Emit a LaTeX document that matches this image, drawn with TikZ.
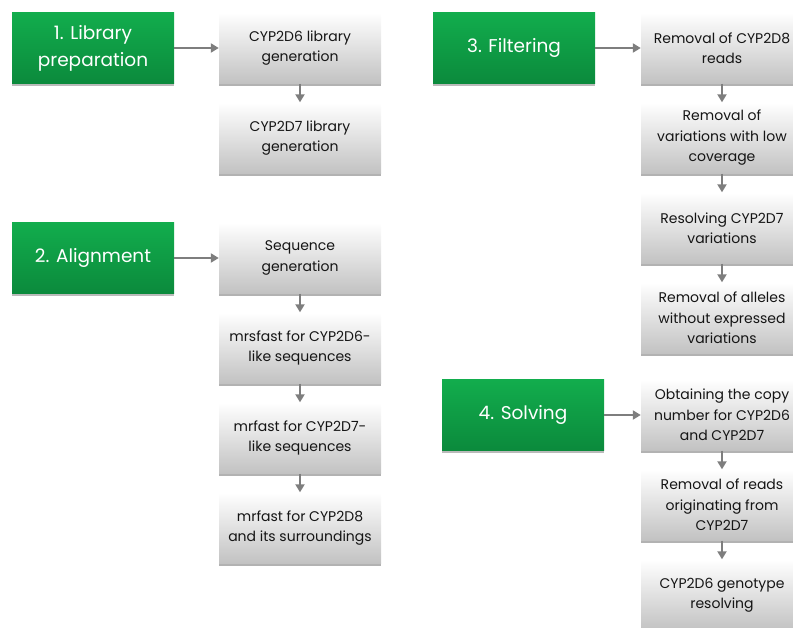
\documentclass[tikz,border=0pt]{standalone}
\usepackage{fontspec}
\setmainfont{Poppins}
\usetikzlibrary{arrows.meta,positioning,shadows}
\definecolor{phasetop}{HTML}{12AD4D}
\definecolor{phasebottom}{HTML}{0B8A3C}
\definecolor{tasktext}{HTML}{151515}
\definecolor{linkgray}{HTML}{7E7E7E}

\begin{document}
\begin{tikzpicture}[x=1pt,y=-1pt,node distance=90pt,on grid,
    phase/.style={minimum width=162pt,minimum height=71pt,inner sep=2pt,
      top color=phasetop,bottom color=phasebottom,text=white,align=center,
      font=\fontsize{18.5}{27}\selectfont,
      drop shadow={shadow xshift=0pt,shadow yshift=-2pt,opacity=.45,fill=black!60}},
    task/.style={minimum width=162pt,minimum height=71pt,inner sep=2pt,
      top color=white,bottom color=black!24,text=tasktext,align=center,
      font=\fontsize{14}{20.5}\selectfont,
      drop shadow={shadow xshift=0pt,shadow yshift=-2pt,opacity=.5,fill=black!60}},
    link/.style={-{Triangle[length=8pt,width=9pt]},line width=2pt,draw=linkgray}]
  \useasboundingbox (0,0) rectangle (793,627);
  \clip (0,0) rectangle (793,627);

  % phases
  \node[phase] (libprep) at (93,48) {1. Library\\preparation};
  \node[phase] (align) at (93,258) {2. Alignment};
  \node[phase] (filter) at (514,48) {3. Filtering};
  \node[phase] (solve) at (523,415) {4. Solving};

  % library preparation
  \node[task] (d6lib) at (300,48) {CYP2D6 library\\generation};
  \node[task] (d7lib) [below=of d6lib] {CYP2D7 library\\generation};

  % alignment
  \node[task] (seqgen) at (300,258) {Sequence\\generation};
  \node[task] (mrs6) [below=of seqgen] {mrsfast for CYP2D6-\\like sequences};
  \node[task] (mr7) [below=of mrs6] {mrfast for CYP2D7-\\like sequences};
  \node[task] (mr8) [below=of mr7] {mrfast for CYP2D8\\and its surroundings};

  % filtering
  \node[task] (rem8) at (722,48) {Removal of CYP2D8\\reads};
  \node[task] (lowcov) [below=of rem8] {Removal of\\variations with low\\coverage};
  \node[task] (res7) [below=of lowcov] {Resolving CYP2D7\\variations};
  \node[task] (alleles) [below=of res7] {Removal of alleles\\without expressed\\variations};

  % solving
  \node[task] (copynum) at (722,415) {Obtaining the copy\\number for CYP2D6\\and CYP2D7};
  \node[task] (reads7) [below=of copynum] {Removal of reads\\originating from\\CYP2D7};
  \node[task] (geno) [below=of reads7] {CYP2D6 genotype\\resolving};

  \foreach \from/\to in {libprep/d6lib,align/seqgen,filter/rem8,solve/copynum,
      d6lib/d7lib,seqgen/mrs6,mrs6/mr7,mr7/mr8,
      rem8/lowcov,lowcov/res7,res7/alleles,copynum/reads7,reads7/geno}
    \draw[link] (\from) -- (\to);
\end{tikzpicture}
\end{document}
